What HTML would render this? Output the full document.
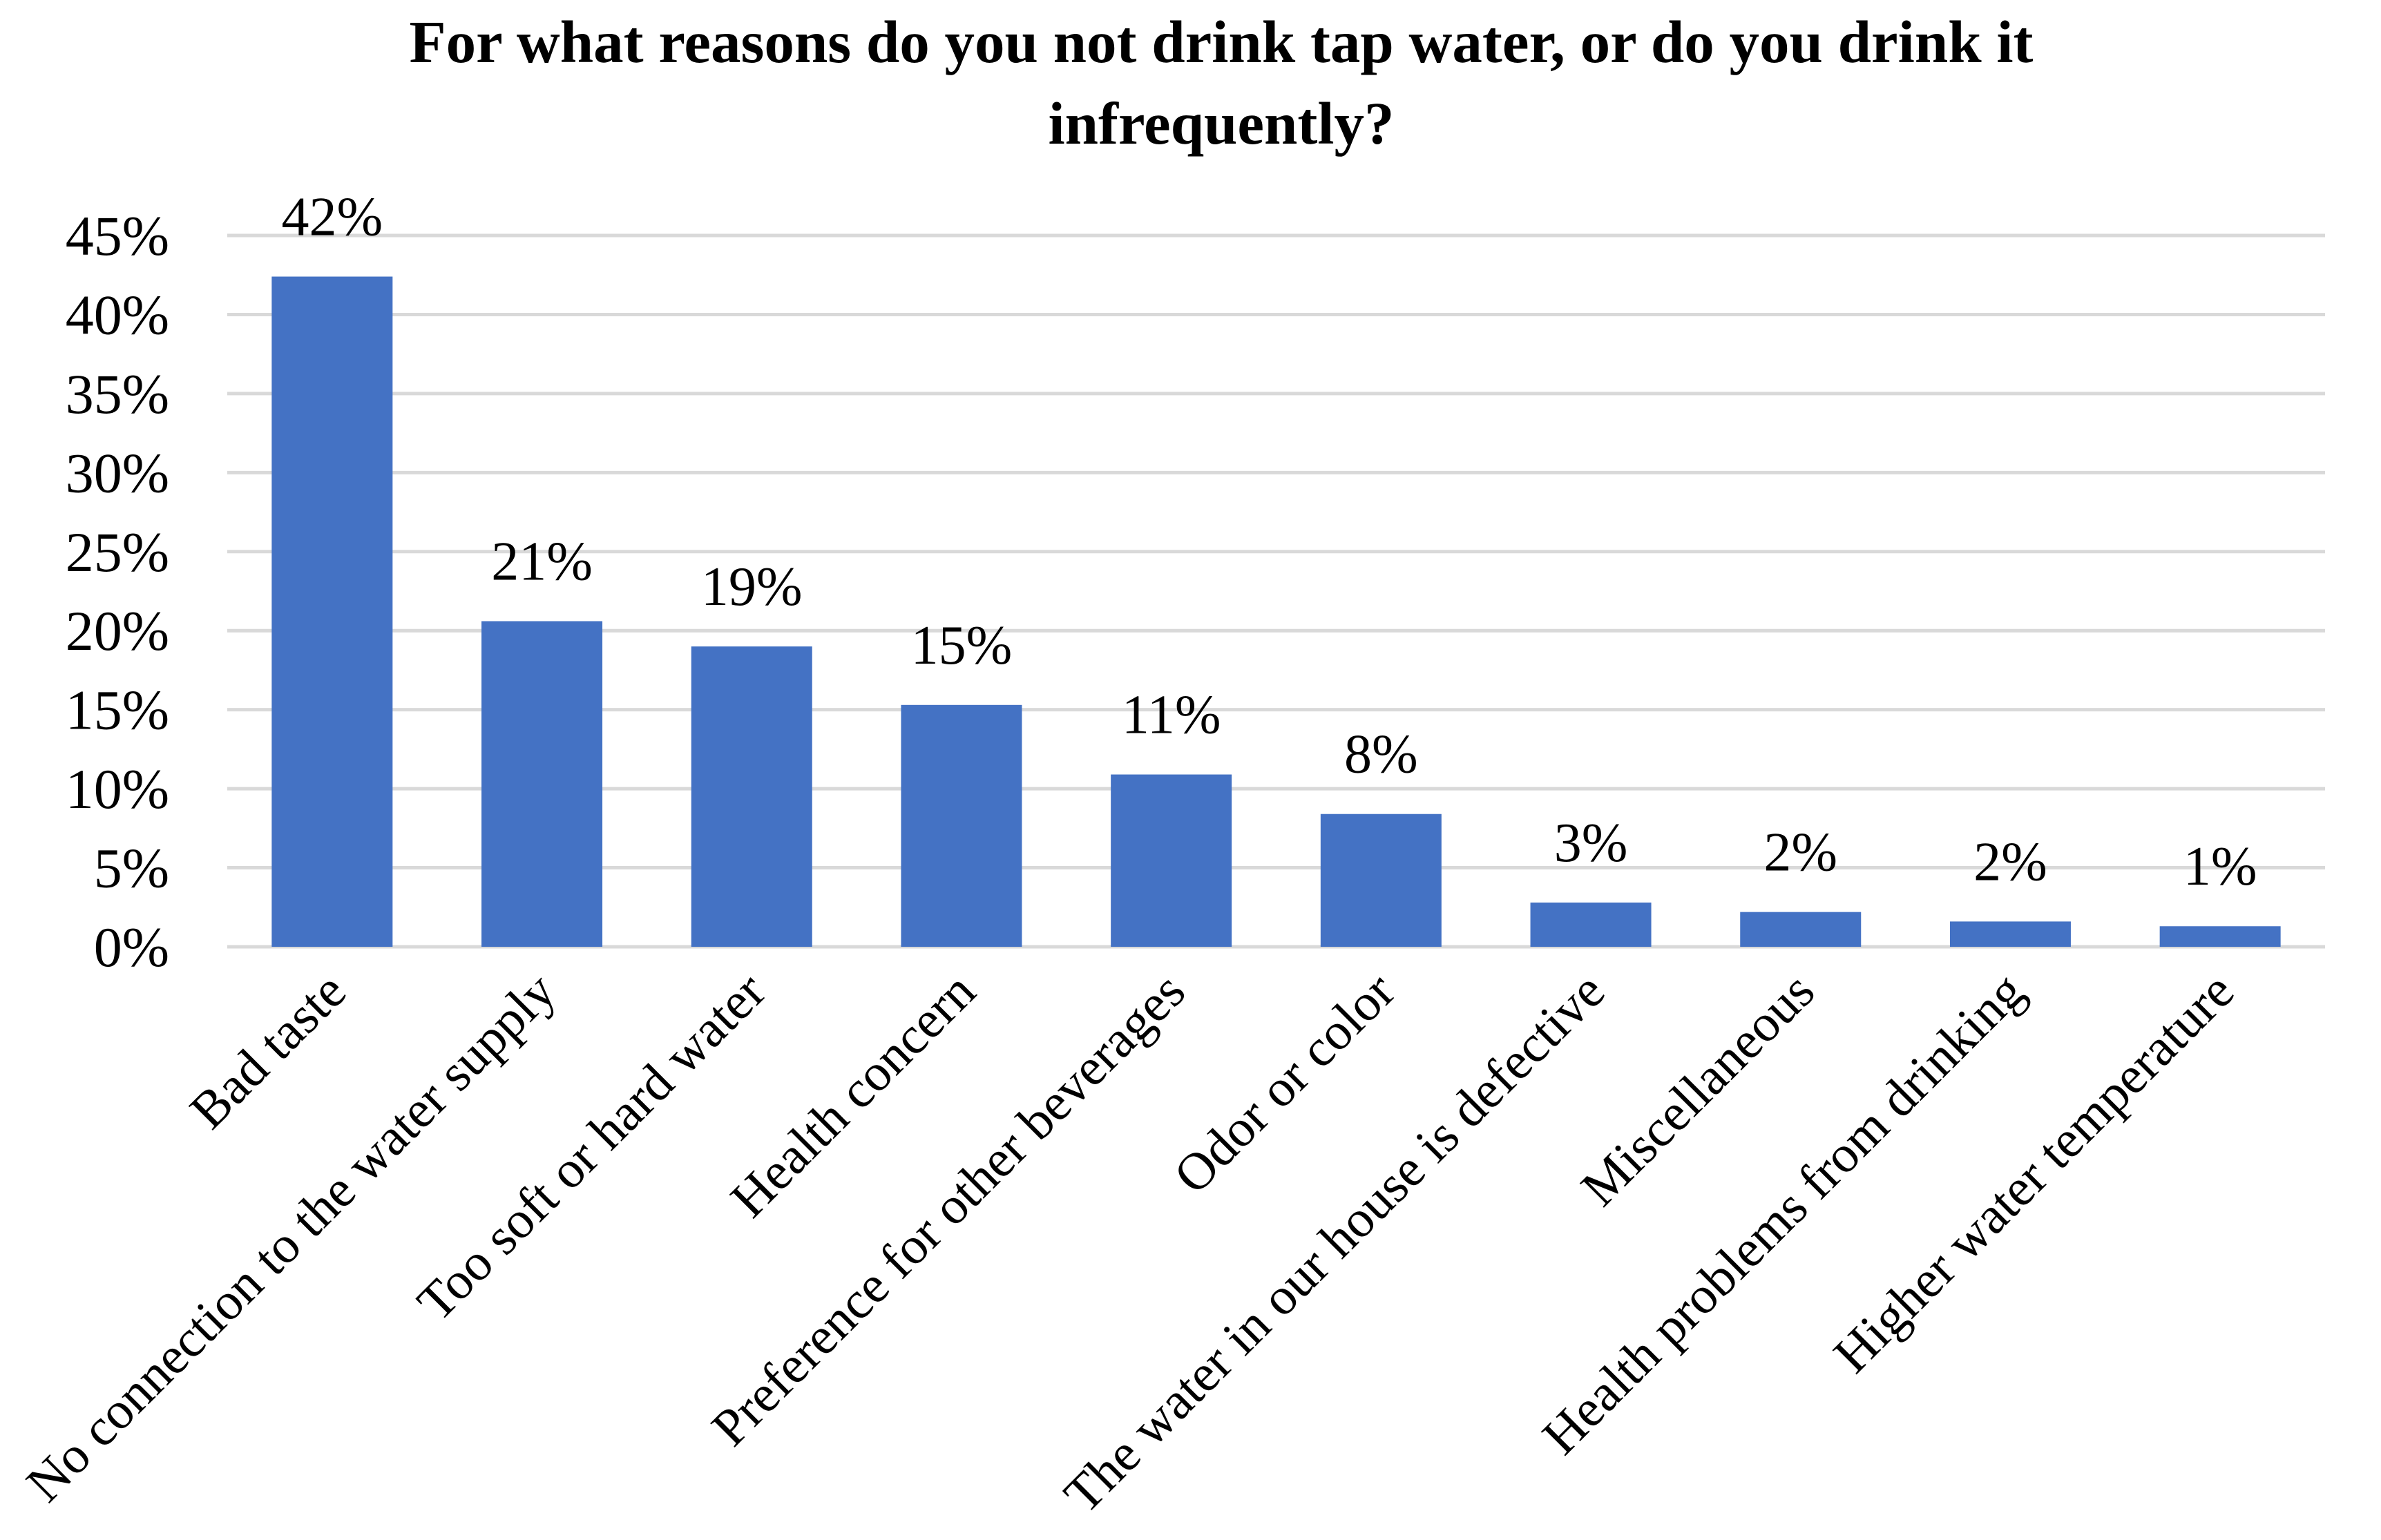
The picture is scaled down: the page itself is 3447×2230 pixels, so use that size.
<!DOCTYPE html>
<html><head><meta charset="utf-8"><style>
html,body{margin:0;padding:0;background:#fff;}
svg{display:block;font-family:"Liberation Serif",serif;}
</style></head><body>
<svg id="chart" width="3447" height="2230" viewBox="0 0 3447 2230" xmlns="http://www.w3.org/2000/svg">
<text x="1768" y="90" font-size="87" font-weight="bold" text-anchor="middle">For what reasons do you not drink tap water, or do you drink it</text>
<text x="1768" y="208" font-size="87" font-weight="bold" text-anchor="middle">infrequently?</text>
<g id="grid"></g>
<g id="yticks"></g>
<g id="bars"></g>
<g id="vlabels"></g>
<g id="xlabels"></g>
</svg>
<script>
const categories = ["Bad taste","No connection to the water supply","Too soft or hard water","Health concern","Preference for other beverages","Odor or color","The water in our house is defective","Miscellaneous","Health problems from drinking","Higher water temperature"];
const values = [42.4, 20.6, 19.0, 15.3, 10.9, 8.4, 2.8, 2.2, 1.6, 1.3];
const valueLabels = ["42%","21%","19%","15%","11%","8%","3%","2%","2%","1%"];
const yTicks = [0,5,10,15,20,25,30,35,40,45];

const NS="http://www.w3.org/2000/svg";
const left=329, right=3366, y0=1371, yTop=341, yMax=45;
function yScale(v){return y0-(v/yMax)*(y0-yTop);}
const band=(right-left)/categories.length;
function xCenter(i){return left+band*(i+0.5);}
const barW=175;
function mk(tag,attrs,parent){const e=document.createElementNS(NS,tag);for(const k in attrs)e.setAttribute(k,attrs[k]);parent.appendChild(e);return e;}
const grid=document.getElementById('grid'),yt=document.getElementById('yticks'),bars=document.getElementById('bars'),vl=document.getElementById('vlabels'),xl=document.getElementById('xlabels');
yTicks.forEach(t=>{
  const y=yScale(t);
  const l=mk('line',{x1:left,x2:right,y1:y,y2:y,stroke:'#d9d9d9','stroke-width':5},grid);
  
  
  const tx=mk('text',{x:245,y:y+28,'font-size':82,'text-anchor':'end'},yt);
  tx.textContent=t+'%';
  
  
});
categories.forEach((c,i)=>{
  const cx=xCenter(i), yv=yScale(values[i]);
  const r=mk('rect',{x:cx-barW/2,y:yv,width:barW,height:y0-yv,fill:'#4472c4'},bars);
  
  
  const t=mk('text',{x:cx,y:yv-60,'font-size':80,'text-anchor':'middle'},vl);
  t.textContent=valueLabels[i];
  
  
  const xt=mk('text',{transform:'translate('+(cx+24)+',1440) rotate(-45)','font-size':76,'text-anchor':'end'},xl);
  xt.textContent=c;
  
  
});
</script>
</body></html>
